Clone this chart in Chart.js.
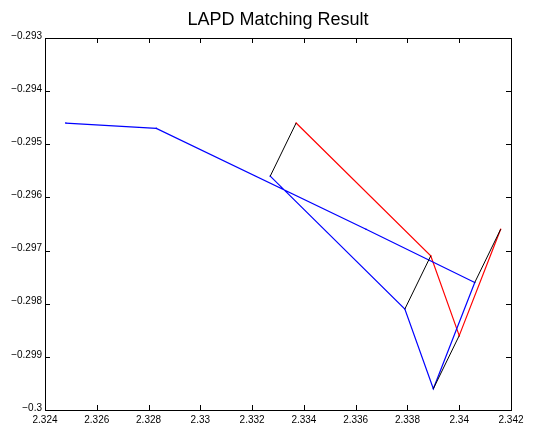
<!DOCTYPE html>
<html>
<head>
<meta charset="utf-8">
<script src="https://cdn.jsdelivr.net/npm/chart.js@4/dist/chart.umd.min.js"></script>
<style>
  html, body { margin: 0; padding: 0; background: #fff; }
  #wrap { width: 534px; height: 426px; }
</style>
</head>
<body>
<div id="wrap"><canvas id="lapd"></canvas></div>
<script>
// blue curve (reference shape)
const blueX = [2.3248, 2.3283, 2.3364, 2.3406, 2.3390, 2.3379, 2.3327];
const blueY = [-0.2946, -0.2947, -0.2966, -0.2976, -0.2996, -0.2981, -0.2956];
// red curve (matched shape)
const redX = [2.3337, 2.3389, 2.3400, 2.3416];
const redY = [-0.2946, -0.2971, -0.2986, -0.2966];
// black correspondences: blue point -> red point
const linkFromX = [2.3327, 2.3379, 2.3390, 2.3406];
const linkFromY = [-0.2956, -0.2981, -0.2996, -0.2976];
const linkToX = [2.3337, 2.3389, 2.3400, 2.3416];
const linkToY = [-0.2946, -0.2971, -0.2986, -0.2966];

const xTicks = [2.324, 2.326, 2.328, 2.33, 2.332, 2.334, 2.336, 2.338, 2.34, 2.342];
const yTicks = [-0.3, -0.299, -0.298, -0.297, -0.296, -0.295, -0.294, -0.293];

function pts(xs, ys) {
  return xs.map((x, i) => ({ x: x, y: ys[i] }));
}

function fmt(v) {
  return String(+v.toFixed(3)).replace('-', '\u2212');
}

const linkSets = linkFromX.map((x, i) => ({
  data: [{ x: x, y: linkFromY[i] }, { x: linkToX[i], y: linkToY[i] }],
  showLine: true, borderColor: '#000', backgroundColor: '#000',
  borderWidth: 1, pointRadius: 0
}));

// MATLAB-like box with inward ticks on all four sides
const boxTicks = {
  id: 'boxTicks',
  beforeDatasetsDraw(chart) {
    const ctx = chart.ctx;
    const a = chart.chartArea;
    const xs = chart.scales.x, ys = chart.scales.y;
    const len = 5;
    ctx.save();
    ctx.strokeStyle = '#000';
    ctx.lineWidth = 1;
    ctx.beginPath();
    xTicks.forEach(v => {
      const px = Math.round(xs.getPixelForValue(v)) + 0.5;
      ctx.moveTo(px, a.bottom); ctx.lineTo(px, a.bottom - len);
      ctx.moveTo(px, a.top); ctx.lineTo(px, a.top + len);
    });
    yTicks.forEach(v => {
      const py = Math.round(ys.getPixelForValue(v)) + 0.5;
      ctx.moveTo(a.left, py); ctx.lineTo(a.left + len, py);
      ctx.moveTo(a.right, py); ctx.lineTo(a.right - len, py);
    });
    ctx.stroke();
    ctx.strokeRect(Math.round(a.left) + 0.5, Math.round(a.top) + 0.5,
      Math.round(a.right - a.left), Math.round(a.bottom - a.top));
    ctx.restore();
  }
};

const tickFont = { family: 'Liberation Sans, Arial, sans-serif', size: 10 };

new Chart(document.getElementById('lapd'), {
  type: 'scatter',
  data: {
    datasets: linkSets.concat([
      { data: pts(blueX, blueY), showLine: true, borderColor: '#0000ff', backgroundColor: '#0000ff',
        borderWidth: 1.2, pointRadius: 0.8, pointBorderWidth: 0 },
      { data: pts(redX, redY), showLine: true, borderColor: '#ff0000', backgroundColor: '#ff0000',
        borderWidth: 1.2, pointRadius: 0.8, pointBorderWidth: 0 }
    ])
  },
  options: {
    responsive: true,
    maintainAspectRatio: false,
    animation: false,
    layout: { padding: { left: 0, right: 23, top: 0, bottom: 0 } },
    plugins: {
      legend: { display: false },
      tooltip: { enabled: false },
      title: {
        display: true,
        text: 'LAPD Matching Result',
        fullSize: false,
        color: '#000',
        font: { family: 'Liberation Sans, Arial, sans-serif', size: 18, weight: 'normal' },
        padding: { top: 9, bottom: 7.4 }
      }
    },
    scales: {
      x: {
        type: 'linear',
        min: 2.324,
        max: 2.342,
        grid: { display: false, drawTicks: false },
        border: { display: false },
        afterBuildTicks: s => { s.ticks = xTicks.map(v => ({ value: v })); },
        afterFit: s => { s.height = 16; },
        ticks: { color: '#000', font: tickFont, padding: 4, maxRotation: 0, autoSkip: false,
          callback: v => fmt(v) }
      },
      y: {
        type: 'linear',
        min: -0.3,
        max: -0.293,
        grid: { display: false, drawTicks: false },
        border: { display: false },
        afterBuildTicks: s => { s.ticks = yTicks.map(v => ({ value: v })); },
        afterFit: s => { s.width = 45; },
        ticks: { color: '#000', font: tickFont, padding: 3, autoSkip: false, labelOffset: -2,
          callback: v => fmt(v) }
      }
    }
  },
  plugins: [boxTicks]
});
</script>
</body>
</html>
